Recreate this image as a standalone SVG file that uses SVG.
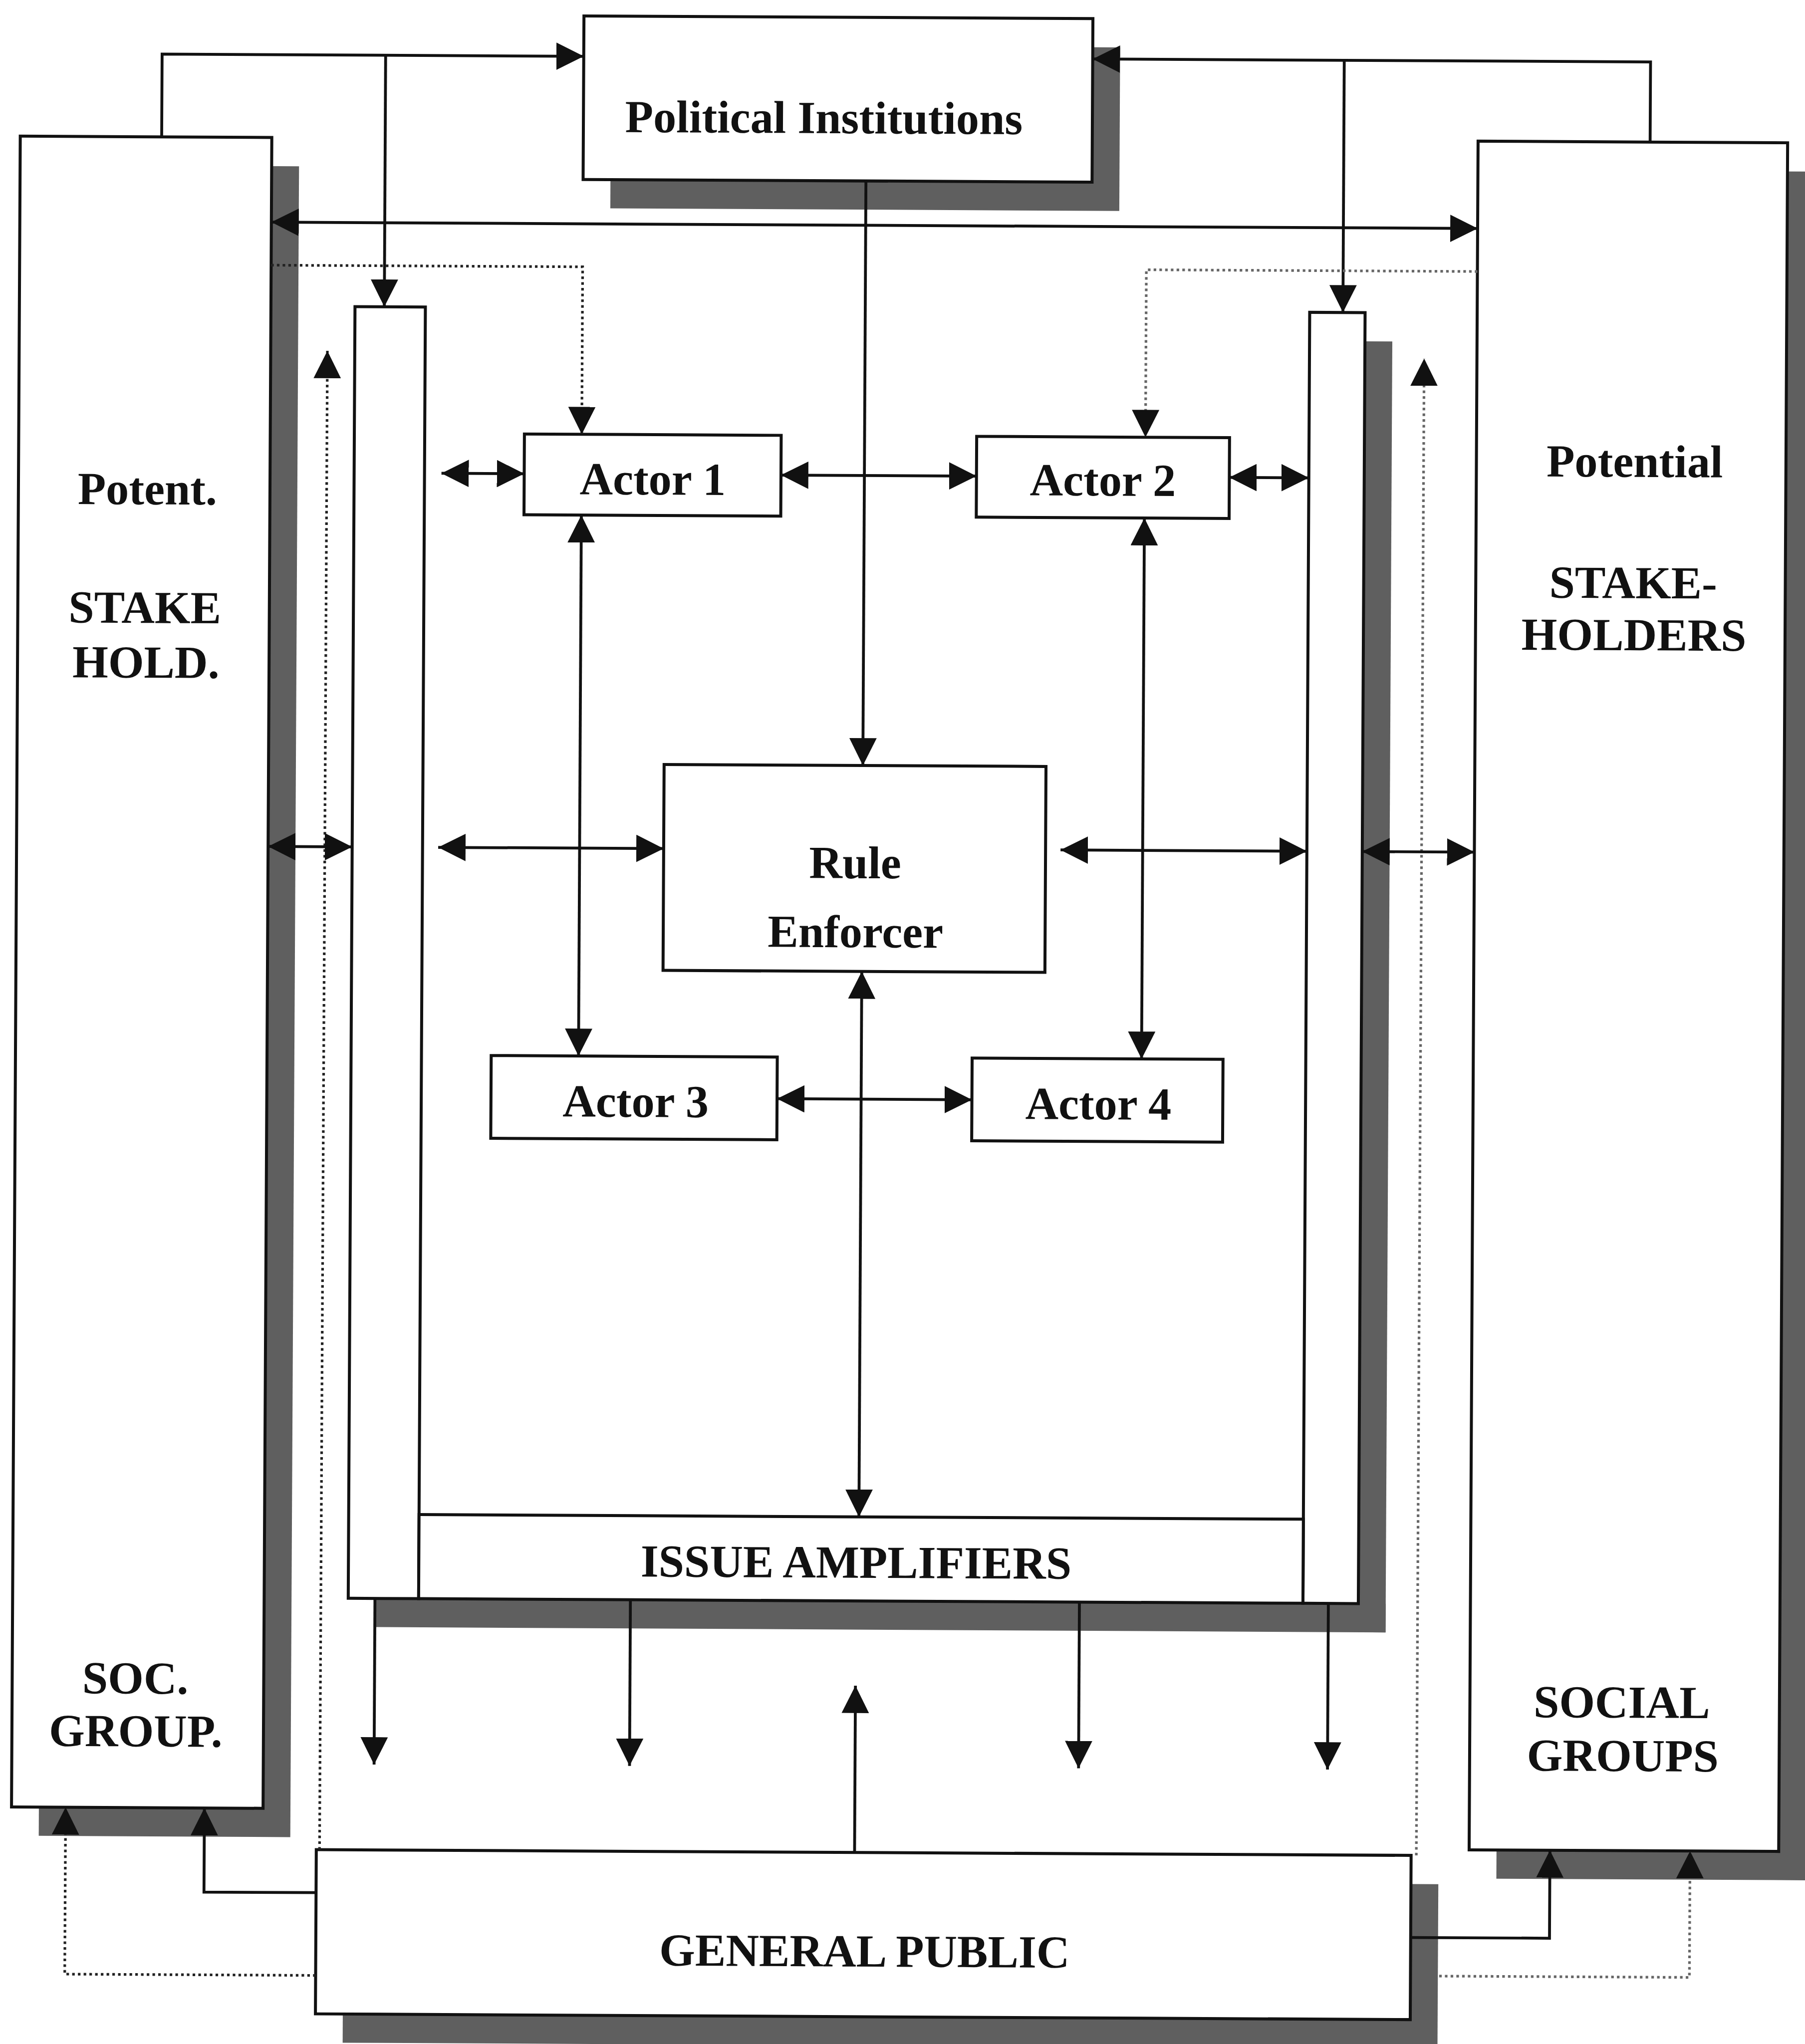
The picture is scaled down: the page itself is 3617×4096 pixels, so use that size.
<svg xmlns="http://www.w3.org/2000/svg" width="3617" height="4096" viewBox="0 0 3617 4096">
  <defs>
    <style>
      .box{fill:#fff;stroke:#111;stroke-width:2.3}
      .shadow{fill:#5f5f5f}
      .lbl{font-family:"Liberation Serif","Times New Roman",serif;font-weight:bold;font-size:35.3px;fill:#111;text-anchor:middle}
      .ln{fill:none;stroke:#111;stroke-width:2.2}
      .dot{fill:none;stroke:#222;stroke-width:2;stroke-dasharray:2 2.4}
      .dot.lt{stroke:#666}
    </style>
    <marker id="ah" viewBox="0 0 21 21" refX="21" refY="10.5" markerWidth="21" markerHeight="21" markerUnits="userSpaceOnUse" orient="auto-start-reverse">
      <path d="M0,0 L21,10.5 L0,21 z" fill="#111"/>
    </marker>
  </defs>
  <rect width="3617" height="4096" fill="#fff"/>
  <!-- layout drawn in 1385-wide units, scaled up, with a slight page tilt -->
  <g transform="scale(2.6118) rotate(0.3 692 784)">
    <g id="political-institutions">
      <rect class="shadow" x="465" y="35.5" width="390.5" height="125.5"/>
      <rect class="box" x="444" y="13.5" width="390.5" height="125.5"/>
      <text class="lbl" x="628.5" y="102.5">Political Institutions</text>
    </g>
    <g id="potential-stakeholders-left">
      <rect class="shadow" x="33" y="130" width="193" height="1282"/>
      <rect class="box" x="12" y="108" width="193" height="1282"/>
      <text class="lbl" x="111" y="390">Potent.</text>
      <text class="lbl" x="109.5" y="481">STAKE</text>
      <text class="lbl" x="110.5" y="523">HOLD.</text>
      <text class="lbl" x="106.5" y="1302.5">SOC.</text>
      <text class="lbl" x="107" y="1343">GROUP.</text>
    </g>
    <g id="potential-stakeholders-right">
      <rect class="shadow" x="1151.5" y="128" width="237.5" height="1311"/>
      <rect class="box" x="1130.5" y="106" width="237.5" height="1311"/>
      <text class="lbl" x="1252" y="363">Potential</text>
      <text class="lbl" x="1251.3" y="456">STAKE-</text>
      <text class="lbl" x="1252" y="496">HOLDERS</text>
      <text class="lbl" x="1247" y="1315">SOCIAL</text>
      <text class="lbl" x="1248" y="1356">GROUPS</text>
    </g>
    <g id="issue-amplifiers">
      <rect class="shadow" x="1044.5" y="260" width="21" height="990.5"/>
      <rect class="shadow" x="290.5" y="1228.5" width="775" height="22"/>
      <rect class="box" x="269.5" y="237.5" width="54" height="991"/>
      <rect class="box" x="1002" y="238" width="42.5" height="990.5"/>
      <rect class="box" x="323.5" y="1164" width="678.5" height="64.5"/>
      <text class="lbl" x="659" y="1210.7">ISSUE AMPLIFIERS</text>
    </g>
    <g id="actor-1">
      <rect class="box" x="400" y="334.5" width="197" height="62"/>
      <text class="lbl" x="498.6" y="380.5">Actor 1</text>
    </g>
    <g id="actor-2">
      <rect class="box" x="747" y="334.5" width="194" height="62"/>
      <text class="lbl" x="844" y="379.5">Actor 2</text>
    </g>
    <g id="rule-enforcer">
      <rect class="box" x="508.5" y="587.5" width="293" height="158"/>
      <text class="lbl" x="655.5" y="674">Rule</text>
      <text class="lbl" x="656" y="727">Enforcer</text>
    </g>
    <g id="actor-3">
      <rect class="box" x="377" y="811.5" width="219.5" height="63.5"/>
      <text class="lbl" x="488" y="858">Actor 3</text>
    </g>
    <g id="actor-4">
      <rect class="box" x="746" y="811.5" width="192.5" height="63.5"/>
      <text class="lbl" x="843" y="858">Actor 4</text>
    </g>
    <g id="general-public">
      <rect class="shadow" x="267" y="1443.5" width="840" height="126"/>
      <rect class="box" x="246" y="1421.5" width="840" height="126"/>
      <text class="lbl" x="667" y="1509">GENERAL PUBLIC</text>
    </g>

    <g id="connectors">
      <!-- links up to the political institutions -->
      <polyline class="ln" points="120.5,108 120.5,44.5 444,44.5" marker-end="url(#ah)"/>
      <line class="ln" x1="292" y1="44.5" x2="292" y2="237.5" marker-end="url(#ah)"/>
      <polyline class="ln" points="1262.5,106 1262.5,44.5 834.5,44.5" marker-end="url(#ah)"/>
      <line class="ln" x1="1027.5" y1="44.5" x2="1027.5" y2="238" marker-end="url(#ah)"/>
      <line class="ln" x1="205" y1="173" x2="1130.5" y2="173" marker-start="url(#ah)" marker-end="url(#ah)"/>
      <line class="ln" x1="661" y1="139" x2="661" y2="587.5" marker-end="url(#ah)"/>

      <!-- dotted influence lines -->
      <polyline class="dot" points="205,206 444,206 444,334.5" marker-end="url(#ah)"/>
      <polyline class="dot lt" points="1130.5,206 876.5,206 876.5,334.5" marker-end="url(#ah)"/>
      <line class="dot" x1="248.5" y1="1421.5" x2="248.5" y2="271.5" marker-end="url(#ah)"/>
      <line class="dot lt" x1="1090" y1="1421.5" x2="1090" y2="273" marker-end="url(#ah)"/>

      <!-- actor row 1 -->
      <line class="ln" x1="336.5" y1="365" x2="400" y2="365" marker-start="url(#ah)" marker-end="url(#ah)"/>
      <line class="ln" x1="597" y1="365" x2="747" y2="365" marker-start="url(#ah)" marker-end="url(#ah)"/>
      <line class="ln" x1="941" y1="365" x2="1002" y2="365" marker-start="url(#ah)" marker-end="url(#ah)"/>

      <!-- middle row -->
      <line class="ln" x1="205" y1="652" x2="269.5" y2="652" marker-start="url(#ah)" marker-end="url(#ah)"/>
      <line class="ln" x1="335.5" y1="652" x2="508.5" y2="652" marker-start="url(#ah)" marker-end="url(#ah)"/>
      <line class="ln" x1="813" y1="651.5" x2="1002" y2="651.5" marker-start="url(#ah)" marker-end="url(#ah)"/>
      <line class="ln" x1="1044.5" y1="651.5" x2="1130.5" y2="651.5" marker-start="url(#ah)" marker-end="url(#ah)"/>

      <!-- verticals between actors -->
      <line class="ln" x1="444" y1="396.5" x2="444" y2="811.5" marker-start="url(#ah)" marker-end="url(#ah)"/>
      <line class="ln" x1="876" y1="396.5" x2="876" y2="811.5" marker-start="url(#ah)" marker-end="url(#ah)"/>
      <line class="ln" x1="596.5" y1="843.5" x2="746" y2="843.5" marker-start="url(#ah)" marker-end="url(#ah)"/>
      <line class="ln" x1="661" y1="745.5" x2="661" y2="1164" marker-start="url(#ah)" marker-end="url(#ah)"/>

      <!-- amplifiers to general public and back -->
      <line class="ln" x1="290" y1="1228.5" x2="290" y2="1356" marker-end="url(#ah)"/>
      <line class="ln" x1="486" y1="1228.5" x2="486" y2="1356" marker-end="url(#ah)"/>
      <line class="ln" x1="830.5" y1="1228.5" x2="830.5" y2="1356" marker-end="url(#ah)"/>
      <line class="ln" x1="1021.5" y1="1228.5" x2="1021.5" y2="1356" marker-end="url(#ah)"/>
      <line class="ln" x1="659" y1="1421.5" x2="659" y2="1293.5" marker-end="url(#ah)"/>

      <!-- general public to social groups -->
      <polyline class="ln" points="246,1454.5 160,1454.5 160,1390" marker-end="url(#ah)"/>
      <polyline class="dot" points="246,1518 53.5,1518 53.5,1390" marker-end="url(#ah)"/>
      <polyline class="ln" points="1086,1484.5 1192.5,1484.5 1192.5,1417" marker-end="url(#ah)"/>
      <polyline class="dot lt" points="1108,1514 1300,1514 1300,1417" marker-end="url(#ah)"/>
    </g>
  </g>
</svg>
